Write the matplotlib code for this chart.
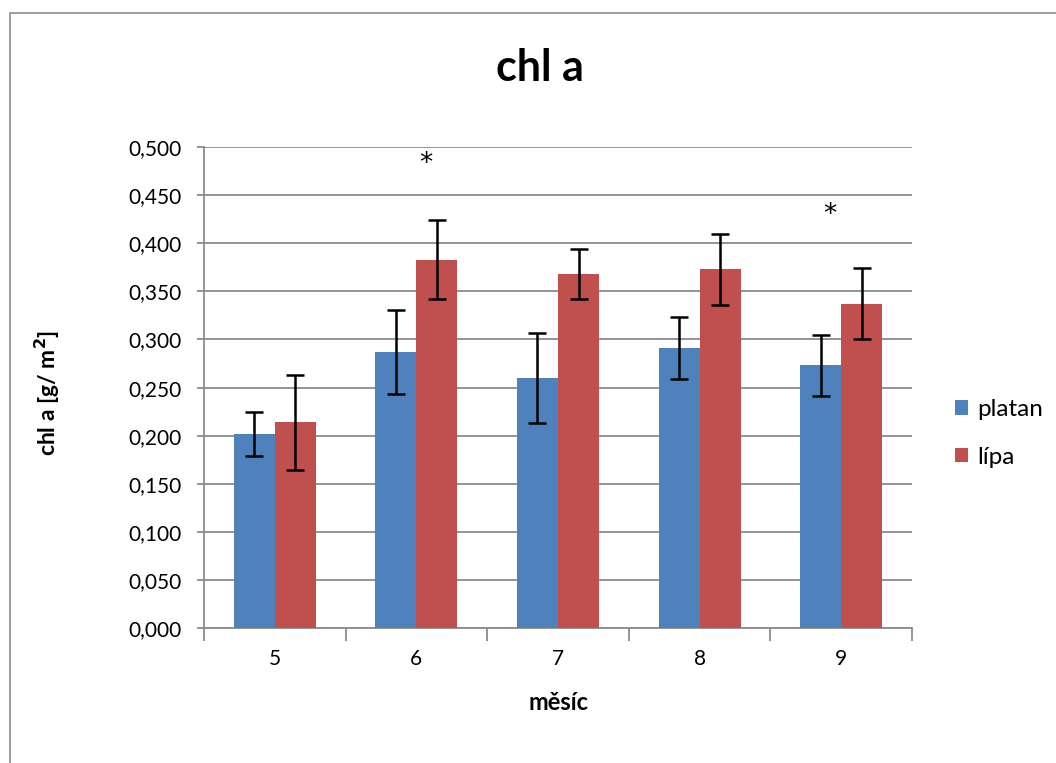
import matplotlib.pyplot as plt
import matplotlib.patches as mpatches
import numpy as np

plt.rcParams['font.family'] = ['Lato', 'DejaVu Sans']

# data
months = ['5', '6', '7', '8', '9']
platan = [0.202, 0.287, 0.260, 0.291, 0.273]
platan_err = [0.023, 0.044, 0.047, 0.032, 0.032]
lipa = [0.214, 0.383, 0.368, 0.373, 0.337]
lipa_err = [0.049, 0.041, 0.026, 0.037, 0.037]
# significance marks: (category index, offset, height)
stars = [(1, 0.07, 0.482), (4, -0.08, 0.429)]

fig = plt.figure(figsize=(10.56, 7.63), dpi=100)
ax = fig.add_axes([0.1932, 0.1763, 0.6704, 0.6313])

# chart area border (Excel style)
fig.patches.append(mpatches.Rectangle((10 / 1056, -0.1), 1.2, 1 - 13 / 763 + 0.1,
                                      transform=fig.transFigure, fill=False,
                                      edgecolor='#8c8c8c', linewidth=1.2))

x = np.arange(len(months))
w = 0.29
err_kw = dict(ecolor='black', elinewidth=1.8, capsize=6.5, capthick=1.8)
ax.bar(x - w / 2, platan, w, yerr=platan_err, color='#4F81BD', label='platan',
       error_kw=err_kw, zorder=3)
ax.bar(x + w / 2, lipa, w, yerr=lipa_err, color='#C0504D', label='lípa',
       error_kw=err_kw, zorder=3)

for i, off, h in stars:
    ax.text(i + off, h, '*', ha='center', va='center', fontsize=19,
            family='DejaVu Sans', zorder=4)

ax.set_xlim(-0.5, len(months) - 0.5)
ax.set_ylim(0, 0.5)
ax.set_yticks(np.arange(0, 0.501, 0.05))
ax.set_yticklabels([f'{v:.3f}'.replace('.', ',') for v in np.arange(0, 0.501, 0.05)])
ax.set_xticks(x)
ax.set_xticklabels(months)
ax.set_xticks(np.arange(-0.5, len(months)), minor=True)
ax.tick_params(axis='x', which='major', length=0, pad=15, labelsize=15)
ax.tick_params(axis='x', which='minor', length=9, width=1.3, color='#8c8c8c')
ax.tick_params(axis='y', length=5, width=1.3, color='#8c8c8c', labelsize=15, pad=11)

ax.yaxis.grid(True, color='#8c8c8c', linewidth=1.3, zorder=0)
ax.set_axisbelow(True)
for s in ['top', 'right']:
    ax.spines[s].set_visible(False)
for s in ['left', 'bottom']:
    ax.spines[s].set_color('#8c8c8c')
    ax.spines[s].set_linewidth(1.3)

fig.text(540 / 1056, 1 - 68 / 763, 'chl a', ha='center', va='center',
         fontsize=31, fontweight='bold')
fig.text(47 / 1056, 1 - 393 / 763, 'chl a [g/ m$^\\mathbf{2}$]', ha='center', va='center',
         rotation=90, fontsize=16.5, fontweight='bold')
fig.text(558 / 1056, 1 - 703 / 763, 'měsíc', ha='center', va='center',
         fontsize=17, fontweight='bold')

ax.legend(loc='center left', bbox_to_anchor=(1.03, 0.405), frameon=False,
          fontsize=17.5, handlelength=0.55, handleheight=0.55, handletextpad=0.35,
          labelspacing=1.1)

plt.savefig('out.png', dpi=100)
